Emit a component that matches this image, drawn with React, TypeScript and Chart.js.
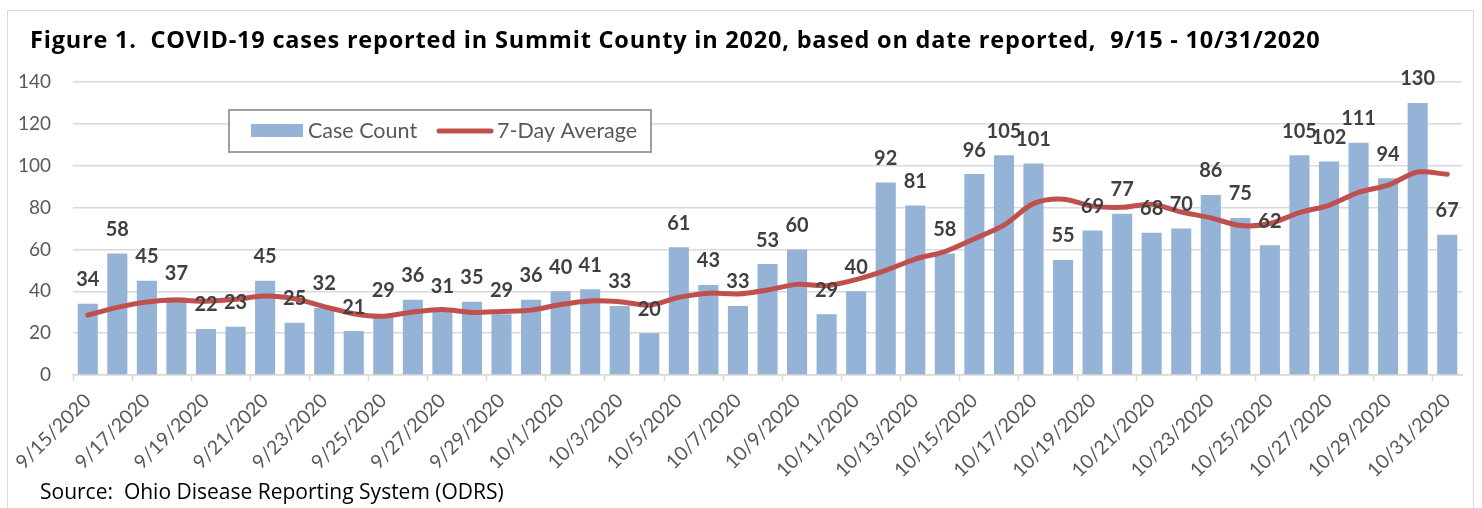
import React, { useEffect, useRef } from "react";
import { Chart, registerables } from "chart.js";

Chart.register(...registerables);

const dates = [
  "9/15/2020", "9/16/2020", "9/17/2020", "9/18/2020", "9/19/2020", "9/20/2020",
  "9/21/2020", "9/22/2020", "9/23/2020", "9/24/2020", "9/25/2020", "9/26/2020",
  "9/27/2020", "9/28/2020", "9/29/2020", "9/30/2020", "10/1/2020", "10/2/2020",
  "10/3/2020", "10/4/2020", "10/5/2020", "10/6/2020", "10/7/2020", "10/8/2020",
  "10/9/2020", "10/10/2020", "10/11/2020", "10/12/2020", "10/13/2020", "10/14/2020",
  "10/15/2020", "10/16/2020", "10/17/2020", "10/18/2020", "10/19/2020", "10/20/2020",
  "10/21/2020", "10/22/2020", "10/23/2020", "10/24/2020", "10/25/2020", "10/26/2020",
  "10/27/2020", "10/28/2020", "10/29/2020", "10/30/2020", "10/31/2020",
];

const caseCounts = [
  34, 58, 45, 37, 22, 23, 45, 25, 32, 21, 29, 36, 31, 35, 29, 36, 40, 41, 33, 20,
  61, 43, 33, 53, 60, 29, 40, 92, 81, 58, 96, 105, 101, 55, 69, 77, 68, 70, 86, 75,
  62, 105, 102, 111, 94, 130, 67,
];

const sevenDayAvg = [
  28.6, 32.3, 34.9, 35.8, 35.2, 36.2, 37.7, 36.4, 32.7, 29.3, 28.1, 30.1, 31.3, 29.9,
  30.4, 31.0, 33.7, 35.4, 35.0, 33.4, 37.1, 39.1, 38.7, 40.6, 43.3, 42.7, 45.6, 50.0,
  55.4, 59.0, 65.1, 71.6, 81.9, 84.0, 80.7, 80.1, 81.6, 77.9, 75.1, 71.4, 72.4, 77.6,
  81.1, 87.3, 90.7, 97.0, 95.9,
];

const yMin = 0;
const yMax = 140;
const yStep = 20;

const seriesNames = ["Case Count", "7-Day Average"];
const TITLE =
  "Figure 1.  COVID-19 cases reported in Summit County in 2020, based on date reported,  9/15 - 10/31/2020";
const SOURCE = "Source:  Ohio Disease Reporting System (ODRS)";

const FONT = "Lato, 'Open Sans', sans-serif";
const TITLE_FONT = "'Open Sans', Lato, sans-serif";
const BAR_COLOR = "#95B3D7";
const LINE_COLOR = "#C0504D";
const TEXT_GRAY = "#595959";
const GRID = "#d9d9d9";

const barLabelPlugin = {
  id: "barLabels",
  afterDatasetsDraw(chart: any) {
    const meta = chart.getDatasetMeta(0);
    const ctx = chart.ctx;
    ctx.save();
    ctx.font = `bold 20px ${FONT}`;
    ctx.fillStyle = "#404040";
    ctx.textAlign = "center";
    ctx.textBaseline = "middle";
    meta.data.forEach((bar: any, i: number) => {
      ctx.fillText(String(caseCounts[i]), bar.x, bar.y - 24);
    });
    ctx.restore();
  },
};

const boxLegendPlugin = {
  id: "boxLegend",
  afterDraw(chart: any) {
    const ctx = chart.ctx;
    const bx = 229, by = 110, bw = 422, bh = 42;
    ctx.save();
    ctx.fillStyle = "#ffffff";
    ctx.fillRect(bx, by, bw, bh);
    ctx.strokeStyle = "#808080";
    ctx.lineWidth = 1.5;
    ctx.strokeRect(bx, by, bw, bh);
    const cy = by + bh / 2;
    ctx.fillStyle = BAR_COLOR;
    ctx.fillRect(251, cy - 7, 52, 13);
    ctx.font = `21.5px ${FONT}`;
    ctx.fillStyle = TEXT_GRAY;
    ctx.textBaseline = "middle";
    ctx.textAlign = "left";
    ctx.fillText(seriesNames[0], 308, cy);
    ctx.strokeStyle = LINE_COLOR;
    ctx.lineWidth = 5;
    ctx.lineCap = "round";
    ctx.beginPath();
    ctx.moveTo(439, cy);
    ctx.lineTo(491, cy);
    ctx.stroke();
    ctx.fillText(seriesNames[1], 497, cy);
    ctx.restore();
  },
};

export default function App() {
  const canvasRef = useRef<HTMLCanvasElement | null>(null);

  useEffect(() => {
    const canvas = canvasRef.current;
    if (!canvas) return;
    const chart = new Chart(canvas, {
      type: "bar",
      data: {
        labels: dates,
        datasets: [
          {
            type: "bar",
            label: seriesNames[0],
            data: caseCounts,
            backgroundColor: BAR_COLOR,
            barPercentage: 0.68,
            categoryPercentage: 1,
            order: 2,
          } as any,
          {
            type: "line",
            label: seriesNames[1],
            data: sevenDayAvg,
            borderColor: LINE_COLOR,
            backgroundColor: LINE_COLOR,
            borderWidth: 5,
            pointRadius: 0,
            tension: 0.3,
            borderCapStyle: "round",
            borderJoinStyle: "round",
            order: 1,
          } as any,
        ],
      },
      options: {
        animation: false,
        responsive: false,
        maintainAspectRatio: false,
        layout: { padding: { left: 8, right: 20, top: 82, bottom: 0 } },
        plugins: {
          legend: { display: false },
          tooltip: { enabled: false },
          title: { display: false },
        },
        scales: {
          x: {
            grid: {
              drawOnChartArea: false,
              offset: true,
              tickLength: 6,
              tickWidth: 1.5,
              tickColor: (c: any) =>
                c.index !== undefined && c.index % 2 === 0 ? GRID : "rgba(0,0,0,0)",
            },
            border: { color: GRID, width: 1.5 },
            ticks: {
              autoSkip: false,
              maxRotation: 45,
              minRotation: 45,
              color: TEXT_GRAY,
              padding: 8,
              font: { family: FONT, size: 19.5 },
              callback: (_v: any, i: number) => (i % 2 === 0 ? dates[i] : ""),
            },
            afterFit: (s: any) => {
              s.height = 133;
            },
          },
          y: {
            min: yMin,
            max: yMax,
            ticks: {
              stepSize: yStep,
              color: TEXT_GRAY,
              padding: 22,
              font: { family: FONT, size: 19 },
            },
            grid: { color: GRID, lineWidth: 1.5, drawTicks: false },
            border: { display: false },
            afterFit: (s: any) => {
              s.width = 65;
            },
          },
        },
      } as any,
      plugins: [barLabelPlugin, boxLegendPlugin],
    });
    return () => chart.destroy();
  }, []);

  return (
    <div
      style={{
        position: "absolute",
        left: 0,
        top: 0,
        width: 1482,
        height: 508,
        overflow: "hidden",
        background: "#ffffff",
      }}
    >
      <div
        style={{
          position: "absolute",
          left: 7,
          top: 10,
          width: 1467,
          height: 520,
          border: `1.5px solid ${GRID}`,
          boxSizing: "border-box",
        }}
      />
      <canvas
        ref={canvasRef}
        width={1482}
        height={508}
        style={{ position: "absolute", left: 0, top: 0, display: "block" }}
      />
      <div
        style={{
          position: "absolute",
          left: 30,
          top: 23,
          fontFamily: TITLE_FONT,
          fontWeight: 700,
          fontSize: 23.5,
          letterSpacing: "0.8px",
          lineHeight: "32px",
          color: "#000000",
          whiteSpace: "pre",
        }}
      >
        {TITLE}
      </div>
      <div
        style={{
          position: "absolute",
          left: 40,
          top: 478,
          fontFamily: TITLE_FONT,
          fontSize: 21,
          lineHeight: "26px",
          color: "#000000",
          whiteSpace: "pre",
        }}
      >
        {SOURCE}
      </div>
    </div>
  );
}
